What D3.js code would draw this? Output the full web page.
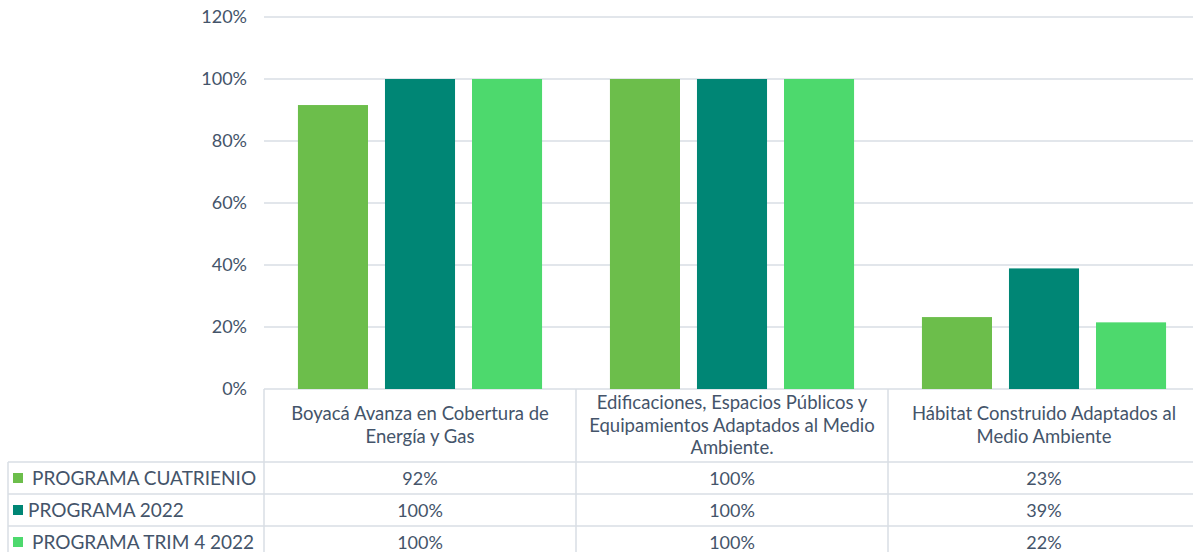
<!DOCTYPE html>
<html>
<head>
<meta charset="utf-8">
<script src="https://cdn.jsdelivr.net/npm/d3@7"></script>
<style>
  body { margin: 0; background: #fff; }
  text { font-family: Lato, "Open Sans", sans-serif; fill: #44546A; }
</style>
</head>
<body>
<div id="chart"></div>
<script>
// categorias y series
const categories = [
  ["Boyacá Avanza en Cobertura de", "Energía y Gas"],
  ["Edificaciones, Espacios Públicos y", "Equipamientos Adaptados al Medio", "Ambiente."],
  ["Hábitat Construido Adaptados al", "Medio Ambiente"]
];
const seriesNames = ["PROGRAMA CUATRIENIO", "PROGRAMA 2022", "PROGRAMA TRIM 4 2022"];
const cuatrienio = [91.6, 100, 23.2];
const prog2022 = [100, 100, 38.9];
const trim4 = [100, 100, 21.5];
const tableLabels = [
  ["92%", "100%", "23%"],
  ["100%", "100%", "39%"],
  ["100%", "100%", "22%"]
];
const yTicks = [0, 20, 40, 60, 80, 100, 120];
const colors = ["#6CBE4B", "#008675", "#4DD96D"];

const width = 1193, height = 552;
const plotLeft = 264, plotRight = 1193, plotTop = 17, plotBottom = 389;
const gridColor = "#D9DEE5";

const svg = d3.select("#chart").append("svg")
  .attr("width", width)
  .attr("height", height);

const y = d3.scaleLinear().domain([0, 120]).range([plotBottom, plotTop]);
const x0 = d3.scaleBand().domain(d3.range(categories.length)).range([plotLeft, 1200]);
const x1 = d3.scaleBand().domain(d3.range(3)).range([0, x0.bandwidth()]).paddingInner(0.195).paddingOuter(0.39);

// GRID
svg.append("g").selectAll("line")
  .data(yTicks)
  .enter().append("line")
  .attr("x1", plotLeft).attr("x2", plotRight)
  .attr("y1", d => y(d)).attr("y2", d => y(d))
  .attr("stroke", gridColor)
  .attr("stroke-width", 1.5);

svg.append("g").selectAll("text")
  .data(yTicks)
  .enter().append("text")
  .attr("x", 247)
  .attr("y", d => y(d) + 6)
  .attr("text-anchor", "end")
  .attr("font-size", 18)
  .text(d => d + "%");

// BARS
const series = [cuatrienio, prog2022, trim4];
series.forEach((vals, s) => {
  svg.append("g").selectAll("rect")
    .data(vals)
    .enter().append("rect")
    .attr("x", (d, i) => x0(i) + x1(s))
    .attr("width", x1.bandwidth())
    .attr("y", d => y(d))
    .attr("height", d => y(0) - y(d))
    .attr("fill", colors[s]);
});

// TABLE
const headerBottom = 462, rowH = 32;
const table = svg.append("g").attr("stroke", gridColor).attr("stroke-width", 1.5);
[0, 1, 2].forEach(i => {
  table.append("line").attr("x1", x0(i)).attr("x2", x0(i)).attr("y1", plotBottom).attr("y2", height);
});
table.append("line").attr("x1", 8).attr("x2", 8).attr("y1", headerBottom).attr("y2", height);
[0, 1, 2].forEach(r => {
  table.append("line").attr("x1", 8).attr("x2", plotRight)
    .attr("y1", headerBottom + r * rowH).attr("y2", headerBottom + r * rowH);
});

// category headers
categories.forEach((lines, i) => {
  const cx = x0(i) + x0.bandwidth() / 2;
  const cy = (plotBottom + headerBottom) / 2;
  const lh = 22.5;
  const t = svg.append("text")
    .attr("text-anchor", "middle")
    .attr("font-size", 18.5);
  lines.forEach((ln, k) => {
    t.append("tspan")
      .attr("x", cx)
      .attr("y", cy + (k - (lines.length - 1) / 2) * lh + 6)
      .text(ln);
  });
});

// rows
seriesNames.forEach((name, r) => {
  const cy = headerBottom + r * rowH + rowH / 2;
  svg.append("rect")
    .attr("x", 13).attr("y", cy - 5)
    .attr("width", 10).attr("height", 10)
    .attr("fill", colors[r]);
  svg.append("text")
    .attr("x", r === 1 ? 28 : 32)
    .attr("y", cy + 6.5)
    .attr("font-size", 19)
    .text(name);
  tableLabels[r].forEach((lab, i) => {
    svg.append("text")
      .attr("x", x0(i) + x0.bandwidth() / 2)
      .attr("y", cy + 6.5)
      .attr("text-anchor", "middle")
      .attr("font-size", 18)
      .text(lab);
  });
});
</script>
</body>
</html>
